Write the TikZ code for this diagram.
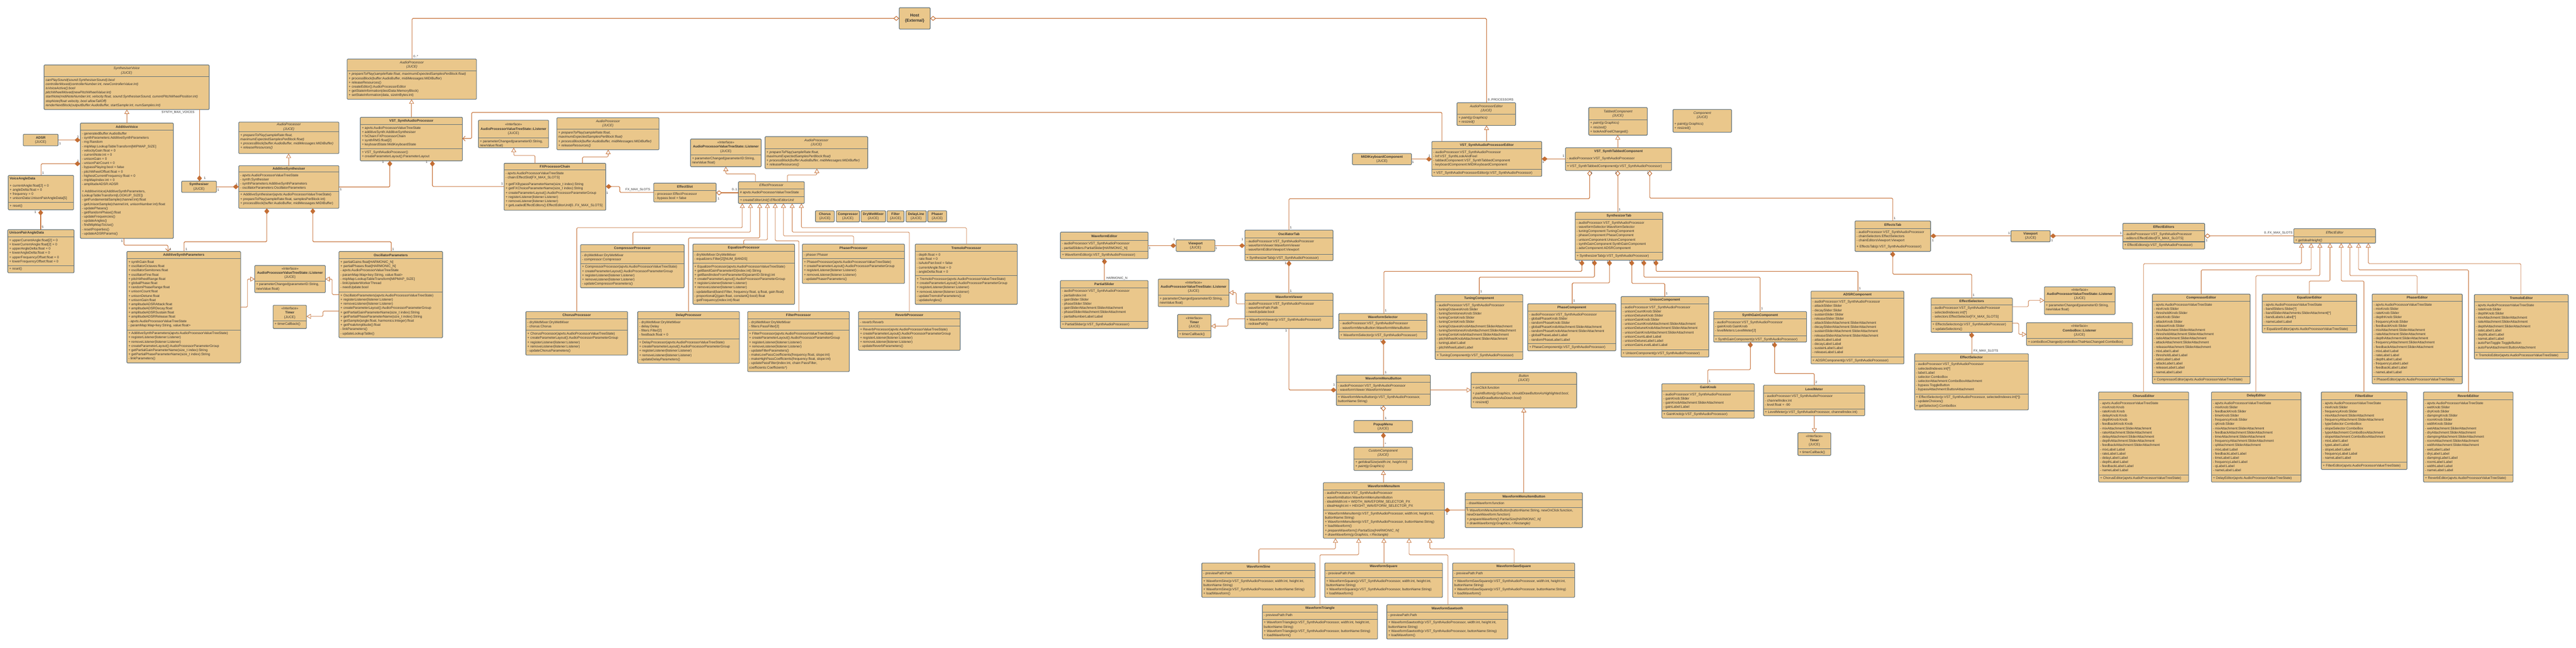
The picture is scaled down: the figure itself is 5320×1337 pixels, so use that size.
\documentclass[tikz,border=0pt]{standalone}
\usepackage{fontspec}
\setmainfont{Liberation Sans}
\usetikzlibrary{arrows.meta}
\definecolor{cfill}{RGB}{234,199,139}
\definecolor{cbord}{RGB}{92,110,120}
\definecolor{cline}{RGB}{196,110,52}
\definecolor{ctext}{RGB}{50,50,50}
\tikzset{
  cbox/.style={draw=cbord,fill=cfill,line width=1.2pt,rounded corners=1.5pt,inner sep=0pt,outer sep=0pt},
  sepl/.style={draw=cbord,line width=1.1pt},
  ttl/.style={font=\fontsize{7}{8.7}\selectfont\bfseries,text=ctext,align=center,inner sep=0pt},
  txt/.style={font=\fontsize{7}{8.7}\selectfont,text=ctext,align=left,inner sep=0pt,anchor=north west},
  conn/.style={draw=cline,line width=1.2pt,rounded corners=2pt},
  cmp/.style={conn,-{Diamond[length=12pt,width=10pt,fill=cline]}},
  agg/.style={conn,-{Diamond[length=12pt,width=10pt,fill=white]}},
  inh/.style={draw=cline,line width=0.9pt,rounded corners=2pt,-{Triangle[length=9pt,width=10pt,fill=white]}},
  nav/.style={conn,-{Straight Barb[length=5pt,width=10pt]}},
  ml/.style={font=\fontsize{6.5}{7}\selectfont,text=ctext,inner sep=0.5pt},
}
\newcommand{\bx}[5]{\node[cbox,anchor=north west,minimum width={#4-#2},minimum height={#5-#3}] (#1) at (#2,#3) {};}
\newcommand{\hs}[3]{\draw[sepl] (#1,#3) -- (#2,#3);}
\newcommand{\tx}[3]{\node[txt] at (#1+3,#2+4) {#3};}
\newcommand{\cls}[8]{\bx{#1}{#2}{#3}{#4}{#5}\hs{#2}{#4}{#6}\node[ttl] at ({(#2+#4)/2},{(#3+#6)/2}) {#7};\tx{#2}{#6}{#8}}
\newcommand{\mth}[4]{\hs{#1}{#2}{#3}\tx{#1}{#3}{#4}}
\newcommand{\jb}[6]{\node[cbox,ttl,anchor=north west,minimum width={#4-#2},minimum height={#5-#3}] (#1) at (#2,#3) {#6};}
\newcommand{\ital}[1]{{\mdseries\itshape #1}}
\newcommand{\juce}{{\mdseries\{JUCE\}}}
\newcommand{\ijuce}{{\mdseries\itshape\{JUCE\}}}
\newcommand{\ifc}[1]{{\mdseries <<Interface>>}\\#1\\\juce}
\newcommand{\lsn}[6]{\cls{#1}{#2}{#3}{#4}{#5}{#6}{\ifc{AudioProcessorValueTreeState::Listener}}{+ parameterChanged(parameterID:String,\\newValue:float)}}
\newcommand{\tmr}[6]{\cls{#1}{#2}{#3}{#4}{#5}{#6}{\ifc{Timer}}{+ timerCallback()}}
\newcommand{\ml}[3]{\node[ml] at (#1,#2) {#3};}
\catcode`\_=12
\begin{document}
\begin{tikzpicture}[x=1pt,y=-1pt]
\fill[white] (0,0) rectangle (5320,1337);
\useasboundingbox (0,0) rectangle (5320,1337);

% ================= left: synthesiser =================
\cls{sv}{91}{134}{432}{226}{158}{\ital{SynthesiserVoice}\\\ijuce}{\textit{canPlaySound(sound:SynthesiserSound):bool}\\
\textit{controllerMoved(controllerNumber:int, newControllerValue:int)}\\
\textit{isVoiceActive():bool}\\
\textit{pitchWheelMoved(newPitchWheelValue:int)}\\
\textit{startNote(midiNoteNumber:int, velocity:float, sound:SynthesiserSound, currentPitchWheelPosition:int)}\\
\textit{stopNote(float velocity, bool allowTailOff)}\\
\textit{renderNextBlock(outputBuffer:AudioBuffer, startSample:int, numSamples:int)}}

\jb{adsr}{48}{277}{120}{301}{ADSR\\\juce}

\bx{av}{166}{254}{358}{492}
\hs{166}{358}{269}
\node[ttl] at (262,261.5) {AdditiveVoice};
\tx{166}{269}{- generatedBuffer:AudioBuffer\\
- synthParameters:AdditiveSynthParameters\\
- rng:Random\\
- mipMap:LookupTableTransform[MIPMAP_SIZE]\\
- velocityGain:float = 0\\
- currentNote:int = 0\\
- unisonGain = 0\\
- unisonPairCount = 0\\
- bypassPlaying:bool = false\\
- pitchWheelOffset:float = 0\\
- highestCurrentFrequency:float = 0\\
- mipMapIndex:int = 0\\
- amplitudeADSR:ADSR\\[6pt]
+ AdditiveVoice(AdditiveSynthParameters,\\
LookupTableTransform[LOOKUP_SIZE])\\
- getFundamentalSample(channel:int):float\\
- getUnisonSample(channel:int, unisonNumber:int):float\\
- updatePhases()\\
- getRandomPhase():float\\
- updateFrequencies()\\
- updateAngles()\\
- findMipMapToUse()\\
- resetProperties()\\
- updateADSRParams()}

\bx{vad}{17}{362}{152}{433}
\node[ttl,anchor=west] at (20,369) {VoiceAngleData};
\tx{17}{376}{+ currentAngle:float[2] = 0\\+ angleDelta:float = 0\\+ frequency = 0\\+ unisonData:UnisonPairAngleData[5]}
\mth{17}{152}{418}{+ reset()}

\bx{upad}{16}{474}{153}{563}
\node[ttl,anchor=west] at (19,481) {UnisonPairAngleData};
\hs{16}{153}{489}
\tx{16}{489}{+ upperCurrentAngle:float[2] = 0\\+ lowerCurrentAngle:float[2] = 0\\+ upperAngleDelta:float = 0\\+ lowerAngleDelta:float = 0\\+ upperFrequencyOffset:float = 0\\+ lowerFrequencyOffset:float = 0}
\mth{16}{153}{548}{+ reset()}

\jb{synth}{375}{374}{447}{397}{Synthesiser\\\juce}

\cls{apA}{493}{252}{700}{317}{272}{\ital{AudioProcessor}\\\ijuce}{\textit{+ prepareToPlay(sampleRate:float,}\\\textit{maximumExpectedSamplesPerBlock:float)}\\\textit{+ processBlock(buffer:AudioBuffer, midiMessages:MIDIBuffer)}\\\textit{+ releaseResources()}}

\cls{asyn}{493}{342}{700}{430}{355}{AdditiveSynthesiser}{- apvts:AudioProcessorValueTreeState\\- synth:Synthesiser\\- synthParameters:AdditiveSynthParameters\\- oscillatorParameters:OscillatorParameters}
\mth{493}{700}{395}{+ AdditiveSynthesiser(apvts:AudioProcessorValueTreeState)\\+ prepareToPlay(sampleRate:float, samplesPerBlock:int)\\+ processBlock(buffer:AudioBuffer, midiMessages:MIDIBuffer)}

\cls{asp}{262}{519}{497}{749}{534}{AdditiveSynthParameters}{+ synthGain:float\\
+ oscillatorOctaves:float\\
+ oscillatorSemitones:float\\
+ oscillatorFine:float\\
+ pitchWheelRange:float\\
+ globalPhase:float\\
+ randomPhaseRange:float\\
+ unisonCount:float\\
+ unisonDetune:float\\
+ unisonGain:float\\
+ amplitudeADSRAttack:float\\
+ amplitudeADSRDecay:float\\
+ amplitudeADSRSustain:float\\
+ amplitudeADSRRelease:float\\
- apvts:AudioProcessorValueTreeState\\
- paramMap:Map<key:String, value:float>}
\mth{262}{497}{681}{+ AdditiveSynthParameters(apvts:AudioProcessorValueTreeState)\\
+ registerListener(listener:Listener)\\
+ removeListener(listener:Listener)\\
+ createParameterLayout():AudioProcessorParameterGroup\\
+ getPartialGainParameterName(size_t index):String\\
+ getPartialPhaseParameterName(size_t index):String\\
- linkParameters()}

\cls{osp}{700}{519}{914}{697}{534}{OscillatorParameters}{+ partialGains:float[HARMONIC_N]\\
+ partialPhases:float[HARMONIC_N]\\
- apvts:AudioProcessorValueTreeState\\
- paramMap:Map<key:String, value:float>\\
- mipMap:LookupTableTransform[MIPMAP_SIZE]\\
- linkUpdaterWorkerThread\\
- needUpdate:bool}
\mth{700}{914}{603}{+ OscillatorParameters(apvts:AudioProcessorValueTreeState)\\
+ registerListener(listener:Listener)\\
+ removeListener(listener:Listener)\\
+ createParameterLayout():AudioProcessorParameterGroup\\
+ getPartialGainParameterName(size_t index):String\\
+ getPartialPhaseParameterName(size_t index):String\\
+ getSample(angle:float, harmonics:Integer):float\\
+ getPeakAmplitude():float\\
- linkParameters()\\
- updateLookupTable()}

\lsn{lis3}{526}{548}{672}{604}{580}
\tmr{tim1}{564}{630}{633}{678}{662}

% ================= processor =================
\cls{ap1}{717}{122}{984}{205}{146}{\ital{AudioProcessor}\\\ijuce}{\textit{+ prepareToPlay(sampleRate:float, maximumExpectedSamplesPerBlock:float)}\\
+ processBlock(buffer:AudioBuffer, midiMessages:MIDIBuffer)\\
+ releaseResources()\\
+ createEditor():AudioProcessorEditor\\
+ getStateInformation(destData:MemoryBlock)\\
+ setStateInformation(data, sizeInBytes:int)}

\cls{vst}{744}{242}{955}{332}{257}{VST_SynthAudioProcessor}{+ apvts:AudioProcessorValueTreeState\\
+ additiveSynth:AdditiveSynthesiser\\
+ fxChain:FXProcessorChain\\
+ synthRMS:float[2]\\
+ keyboardState:MidiKeyboardState}
\mth{744}{955}{307}{+ VST_SynthAudioProcessor()\\+ createParameterLayout():ParameterLayout}

\node[cbox,anchor=north west,minimum width=64,minimum height=44,font=\fontsize{8.5}{10.5}\selectfont\bfseries,text=ctext,align=center] (host) at (1857,16) {Host\\\{External\}};

\lsn{lis1}{988}{248}{1133}{305}{285}
\cls{ap2}{1150}{243}{1361}{309}{267}{\ital{AudioProcessor}\\\ijuce}{\textit{+ prepareToPlay(sampleRate:float,}\\\textit{maximumExpectedSamplesPerBlock:float)}\\\textit{+ processBlock(buffer:AudioBuffer, midiMessages:MIDIBuffer)}\\\textit{+ releaseResources()}}

\cls{fxc}{1041}{337}{1251}{434}{351}{FXProcessorChain}{- apvts:AudioProcessorValueTreeState\\
- chain:EffectSlot[FX_MAX_SLOTS]\\[5pt]
+ getFXBypassParameterName(size_t index):String\\
+ getFXChoiceParameterName(size_t index):String\\
+ createParameterLayout():AudioProcessorParameterGroup\\
+ registerListener(listener:Listener)\\
+ removeListener(listener:Listener)\\
+ getLoadedEffectEditors():EffectEditorUnit[0..FX_MAX_SLOTS]}

\cls{eslot}{1350}{378}{1479}{417}{393}{EffectSlot}{- processor:EffectProcessor\\- bypass:bool = false}

\lsn{lis2}{1426}{287}{1572}{344}{320}
\cls{ap3}{1580}{282}{1792}{348}{307}{\ital{AudioProcessor}\\\ijuce}{\textit{+ prepareToPlay(sampleRate:float,}\\\textit{maximumExpectedSamplesPerBlock:float)}\\\textit{+ processBlock(buffer:AudioBuffer, midiMessages:MIDIBuffer)}\\\textit{+ releaseResources()}}

\cls{ep}{1525}{375}{1661}{420}{390}{\ital{EffectProcessor}}{\# apvts:AudioProcessorValueTreeState}
\mth{1525}{1661}{406}{\textit{+ createEditorUnit():EffectEditorUnit}}

\jb{jcho}{1684}{435}{1723}{458}{Chorus\\\juce}
\jb{jcom}{1727}{435}{1775}{458}{Compressor\\\juce}
\jb{jdwm}{1778}{435}{1829}{458}{DryWetMixer\\\juce}
\jb{jfil}{1832}{435}{1867}{458}{Filter\\\juce}
\jb{jdel}{1871}{435}{1913}{458}{DelayLine\\\juce}
\jb{jpha}{1916}{435}{1955}{458}{Phaser\\\juce}

\cls{cpp}{1199}{505}{1413}{594}{520}{CompressorProcessor}{- dryWetMixer:DryWetMixer\\- compressor:Compressor}
\mth{1199}{1413}{544}{+ CompressorProcessor(apvts:AudioProcessorValueTreeState)\\+ createParameterLayout():AudioProcessorParameterGroup\\+ registerListener(listener:Listener)\\+ removeListener(listener:Listener)\\- updateCompressorParameters()}

\cls{eqp}{1431}{504}{1641}{628}{519}{EqualizerProcessor}{- dryWetMixer:DryWetMixer\\- equalizers:Filter[2][NUM_BANDS]}
\mth{1431}{1641}{543}{+ EqualizerProcessor(apvts:AudioProcessorValueTreeState)\\+ getBandGainParameterID(index:int):String\\+ getBandIndexFromParameterID(paramID:String):int\\+ createParameterLayout():AudioProcessorParameterGroup\\+ registerListener(listener:Listener)\\+ removeListener(listener:Listener)\\- updateBand(band:Filter, frequency:float, q:float, gain:float)\\- proportionalQ(gain:float, constantQ:bool):float\\- getFrequency(index:int):float}

\cls{php}{1657}{504}{1868}{585}{519}{PhaserProcessor}{- phaser:Phaser}
\mth{1657}{1868}{534}{+ PhaserProcessor(apvts:AudioProcessorValueTreeState)\\+ createParameterLayout():AudioProcessorParameterGroup\\+ registerListener(listener:Listener)\\+ removeListener(listener:Listener)\\- updatePhaserParameters()}

\cls{trp}{1890}{504}{2101}{628}{519}{TremoloProcessor}{- depth:float = 0\\- rate:float = 0\\- isAutoPan:bool = false\\- currentAngle:float = 0\\- angleDelta:float = 0}
\mth{1890}{2101}{569}{+ TremoloProcessor(apvts:AudioProcessorValueTreeState)\\+ createParameterLayout():AudioProcessorParameterGroup\\+ registerListener(listener:Listener)\\+ removeListener(listener:Listener)\\- updateTremoloParameters()\\- updateAngles()}

\cls{chp}{1086}{643}{1296}{733}{658}{ChorusProcessor}{- dryWetMixer:DryWetMixer\\- chorus:Chorus}
\mth{1086}{1296}{682}{+ ChorusProcessor(apvts:AudioProcessorValueTreeState)\\+ createParameterLayout():AudioProcessorParameterGroup\\+ registerListener(listener:Listener)\\+ removeListener(listener:Listener)\\- updateChorusParameters()}

\cls{dlp}{1317}{643}{1527}{750}{658}{DelayProcessor}{- dryWetMixer:DryWetMixer\\- delay:Delay\\- filters:Filter[2]\\- feedback:float = 0}
\mth{1317}{1527}{700}{+ DelayProcessor(apvts:AudioProcessorValueTreeState)\\+ createParameterLayout():AudioProcessorParameterGroup\\+ registerListener(listener:Listener)\\+ removeListener(listener:Listener)\\- updateDelayParameters()}

\cls{flp}{1544}{643}{1754}{767}{658}{FilterProcessor}{- dryWetMixer:DryWetMixer\\- filters:PassFilter[2]}
\mth{1544}{1754}{682}{+ FilterProcessor(apvts:AudioProcessorValueTreeState)\\+ createParameterLayout():AudioProcessorParameterGroup\\+ registerListener(listener:Listener)\\+ removeListener(listener:Listener)\\- updateFilterParameters()\\- makeLowPassCoefficients(frequency:float, slope:int)\\- makeHighPassCoefficients(frequency:float, slope:int)\\- updatePassFilter(index:int, chain:PassFilter,\\coefficients:Coefficients*)}

\cls{rvp}{1773}{643}{1983}{723}{658}{ReverbProcessor}{- reverb:Reverb}
\mth{1773}{1983}{673}{+ ReverbProcessor(apvts:AudioProcessorValueTreeState)\\+ createParameterLayout():AudioProcessorParameterGroup\\+ registerListener(listener:Listener)\\+ removeListener(listener:Listener)\\- updateReverbParameters()}

% ================= editor =================
\cls{ape}{3009}{212}{3130}{259}{236}{\ital{AudioProcessorEditor}\\\ijuce}{\textit{+ paint(g:Graphics)}\\\textit{+ resized()}}

\cls{vste}{2957}{292}{3184}{364}{307}{VST_SynthAudioProcessorEditor}{- audioProcessor:VST_SynthAudioProcessor\\- lnf:VST_SynthLookAndFeel\\- tabbedComponent:VST_SynthTabbedComponent\\- keyboardComponent:MIDIKeyboardComponent}
\mth{2957}{3184}{350}{+ VST_SynthAudioProcessorEditor(p:VST_SynthAudioProcessor)}

\jb{midi}{2793}{317}{2915}{340}{MIDIKeyboardComponent\\\juce}

\cls{tabc}{3281}{222}{3402}{279}{247}{\ital{TabbedComponent}\\\ijuce}{\textit{+ paint(g:Graphics)}\\\textit{+ resized()}\\+ lookAndFeelChanged()}

\bx{vstt}{3233}{305}{3452}{352}
\node[ttl] at (3342.5,313) {VST_SynthTabbedComponent};
\tx{3233}{320}{- audioProcessor:VST_SynthAudioProcessor}
\mth{3233}{3452}{336}{+ VST_SynthTabbedComponent(p:VST_SynthAudioProcessor)}

\bx{cmpj}{3455}{226}{3576}{273}
\node[ttl] at (3515.5,238) {\ital{Component}\\\ijuce};
\tx{3455}{249}{+ paint(g:Graphics)\\+ resized()}

\cls{stab}{3253}{438}{3434}{537}{453}{SynthesizerTab}{- audioProcessor:VST_SynthAudioProcessor\\- waveformSelector:WaveformSelector\\- tuningComponent:TuningComponent\\- phaseComponent:PhaseComponent\\- unisonComponent:UnisonComponent\\- synthGainComponent:SynthGainComponent\\- adsrComponent:ADSRComponent}
\mth{3253}{3434}{521}{+ SynthesizerTab(p:VST_SynthAudioProcessor)}

\cls{otab}{2571}{475}{2753}{538}{491}{OscillatorTab}{- audioProcessor:VST_SynthAudioProcessor\\- waveformViewer:WaveformViewer\\- waveformEditorViewport:Viewport}
\mth{2571}{2753}{525}{+ SynthesizerTab(p:VST_SynthAudioProcessor)}

\jb{vp1}{2429}{495}{2509}{519}{Viewport\\\juce}

\cls{wed}{2190}{479}{2371}{534}{496}{WaveformEditor}{- audioProcessor:VST_SynthAudioProcessor\\- partialSliders:PartialSlider[HARMONIC_N]}
\mth{2190}{2371}{519}{+ WaveformEditor(p:VST_SynthAudioProcessor)}

\cls{psl}{2190}{579}{2371}{678}{594}{PartialSlider}{- audioProcessor:VST_SynthAudioProcessor\\- partialIndex:int\\- gainSlider:Slider\\- phaseSlider:Slider\\- gainSliderAttachment:SliderAttachment\\- phaseSliderAttachment:SliderAttachment\\- partialNumberLabel:Label}
\mth{2190}{2371}{663}{+ PartialSlider(p:VST_SynthAudioProcessor)}

\lsn{lis4}{2392}{576}{2538}{633}{609}
\tmr{tim2}{2432}{649}{2501}{697}{683}

\cls{wview}{2571}{605}{2753}{678}{620}{WaveformViewer}{- audioProcessor:VST_SynthAudioProcessor\\- waveformPath:Path\\- needUpdate:bool}
\mth{2571}{2753}{653}{+ WaveformViewer(p:VST_SynthAudioProcessor)\\- redrawPath()}

\cls{wsel}{2765}{647}{2947}{700}{661}{WaveformSelector}{- audioProcessor:VST_SynthAudioProcessor\\- waveformMenuButton:WaveformMenuButton}
\mth{2765}{2947}{685}{+ WaveformSelector(p:VST_SynthAudioProcessor)}

\cls{tun}{2964}{608}{3145}{742}{623}{TuningComponent}{- audioProcessor:VST_SynthAudioProcessor\\- tuningOctavesKnob:Slider\\- tuningSemitonesKnob:Slider\\- tuningCentsKnob:Slider\\- tuningCentsKnob:Slider\\- tuningOctavesKnobAttachment:SliderAttachment\\- tuningSemitonesKnobAttachment:SliderAttachment\\- tuningCentsKnobAttachment:SliderAttachment\\- pitchWheelKnobAttachment:SliderAttachment\\- tuningLabel:Label\\- pitchWheelLabel:Label}
\mth{2964}{3145}{726}{+ TuningComponent(p:VST_SynthAudioProcessor)}

\cls{phc}{3155}{627}{3337}{724}{642}{PhaseComponent}{- audioProcessor:VST_SynthAudioProcessor\\- globalPhaseKnob:Slider\\- randomPhaseKnob:Slider\\- globalPhaseKnobAttachment:SliderAttachment\\- randomPhaseKnobAttachment:SliderAttachment\\- globalPhaseLabel:Label\\- randomPhaseLabel:Label}
\mth{3155}{3337}{709}{+ PhaseComponent(p:VST_SynthAudioProcessor)}

\cls{unc}{3348}{612}{3529}{737}{627}{UnisonComponent}{- audioProcessor:VST_SynthAudioProcessor\\- unisonCountKnob:Slider\\- unisonDetuneKnob:Slider\\- unisonGainKnob:Slider\\- unisonCountKnobAttachment:SliderAttachment\\- unisonDetuneKnobAttachment:SliderAttachment\\- unisonGainKnobAttachment:SliderAttachment\\- unisonCountLabel:Label\\- unisonDetuneLabel:Label\\- unisonGainLevelLabel:Label}
\mth{3348}{3529}{722}{+ UnisonComponent(p:VST_SynthAudioProcessor)}

\cls{sgc}{3539}{643}{3731}{706}{658}{SynthGainComponent}{- audioProcessor:VST_SynthAudioProcessor\\- gainKnob:GainKnob\\- levelMeters:LevelMeter[2]}
\mth{3539}{3731}{693}{+ SynthGainComponent(p:VST_SynthAudioProcessor)}

\cls{adc}{3740}{601}{3932}{751}{616}{ADSRComponent}{- audioProcessor:VST_SynthAudioProcessor\\- attackSlider:Slider\\- decaySlider:Slider\\- sustainSlider:Slider\\- releaseSlider:Slider\\- attackSliderAttachment:SliderAttachment\\- decaySliderAttachment:SliderAttachment\\- sustainSliderAttachment:SliderAttachment\\- releaseSliderAttachment:SliderAttachment\\- attackLabel:Label\\- decayLabel:Label\\- sustainLabel:Label\\- releaseLabel:Label}
\mth{3740}{3932}{737}{+ ADSRComponent(p:VST_SynthAudioProcessor)}

\cls{gk}{3432}{792}{3623}{863}{807}{GainKnob}{- audioProcessor:VST_SynthAudioProcessor\\- gainKnob:Slider\\- gainKnobAttachment:SliderAttachment\\- gainLabel:Label}
\mth{3432}{3623}{848}{+ GainKnob(p:VST_SynthAudioProcessor)}

\cls{lm}{3642}{795}{3851}{858}{811}{LevelMeter}{- audioProcessor:VST_SynthAudioProcessor\\- channelIndex:int\\- level:float = -90}
\mth{3642}{3851}{844}{+ LevelMeter(p:VST_SynthAudioProcessor, channelIndex:int)}

\tmr{tim3}{3713}{893}{3781}{940}{926}

\cls{btn}{3038}{769}{3256}{842}{793}{\ital{Button}\\\ijuce}{+ \textit{onClick:function}\\[4pt]
+ \textit{paintButton(g:Graphics, shouldDrawButtonAsHighlighted:bool,}\\
\textit{shouldDrawButtonAsDown:bool)}\\
+ \textit{resized()}}

\cls{wmb}{2760}{774}{2954}{837}{789}{WaveformMenuButton}{- audioProcessor:VST_SynthAudioProcessor\\- waveformViewer:WaveformViewer}
\mth{2760}{2954}{813}{+ WaveformMenuButton(p:VST_SynthAudioProcessor,\\buttonName:String)}

\jb{pop}{2796}{868}{2917}{893}{PopupMenu\\\juce}

\cls{cc}{2796}{923}{2917}{971}{947}{\ital{CustomComponent}\\\ijuce}{\textit{+ getIdealSize(width:int, height:int)}\\\textit{+ paint(g:Graphics)}}

\cls{wmi}{2733}{996}{2983}{1111}{1011}{WaveformMenuItem}{- audioProcessor:VST_SynthAudioProcessor\\- waveformButton:WaveformMenuItemButton\\- idealWidth:int = WIDTH_WAVEFORM_SELECTOR_PX\\- idealHeight:int = HEIGHT_WAVEFORM_SELECTOR_PX}
\mth{2733}{2983}{1053}{+ WaveformMenuItem(p:VST_SynthAudioProcessor, width:int, height:int,\\buttonName:String)\\+ WaveformMenuItem(p:VST_SynthAudioProcessor, buttonName:String)\\+ loadWaveform()\\\textit{+ prepareWaveform():PartialSize[HARMONIC_N]}\\\textit{+ drawWaveform(g:Graphics, r:Rectangle)}}

\cls{wmib}{3026}{1017}{3268}{1089}{1032}{WaveformMenuItemButton}{- drawWaveform:function}
\mth{3026}{3268}{1047}{+ WaveformMenuItemButton(buttonName:String, newOnClick:function,\\newDrawWaveform:function)\\\textit{+ prepareWaveform():PartialSize[HARMONIC_N]}\\\textit{+ drawWaveform(g:Graphics, r:Rectangle)}}

\cls{wsin}{2482}{1162}{2716}{1233}{1177}{WaveformSine}{- previewPath:Path}
\mth{2482}{2716}{1192}{+ WaveformSine(p:VST_SynthAudioProcessor, width:int, height:int,\\buttonName:String)\\+ WaveformSine(p:VST_SynthAudioProcessor, buttonName:String)\\+ loadWaveform()}
\cls{wsq}{2736}{1162}{2979}{1233}{1177}{WaveformSquare}{- previewPath:Path}
\mth{2736}{2979}{1192}{+ WaveformSquare(p:VST_SynthAudioProcessor, width:int, height:int,\\buttonName:String)\\+ WaveformSquare(p:VST_SynthAudioProcessor, buttonName:String)\\+ loadWaveform()}
\cls{wss}{3000}{1162}{3252}{1233}{1177}{WaveformSawSquare}{- previewPath:Path}
\mth{3000}{3252}{1192}{+ WaveformSawSquare(p:VST_SynthAudioProcessor, width:int, height:int,\\buttonName:String)\\+ WaveformSawSquare(p:VST_SynthAudioProcessor, buttonName:String)\\+ loadWaveform()}
\cls{wtri}{2607}{1248}{2845}{1319}{1263}{WaveformTriangle}{- previewPath:Path}
\mth{2607}{2845}{1278}{+ WaveformTriangle(p:VST_SynthAudioProcessor, width:int, height:int,\\buttonName:String)\\+ WaveformTriangle(p:VST_SynthAudioProcessor, buttonName:String)\\+ loadWaveform()}
\cls{wsaw}{2864}{1248}{3114}{1319}{1263}{WaveformSawtooth}{- previewPath:Path}
\mth{2864}{3114}{1278}{+ WaveformSawtooth(p:VST_SynthAudioProcessor, width:int, height:int,\\buttonName:String)\\+ WaveformSawtooth(p:VST_SynthAudioProcessor, buttonName:String)\\+ loadWaveform()}

% ================= effects tab =================
\cls{etab}{3831}{456}{3987}{519}{472}{EffectsTab}{- audioProcessor:VST_SynthAudioProcessor\\- chainSelectors:EffectSelectors\\- chainEditorsViewport:Viewport\\[4pt]+ EffectsTab(p:VST_SynthAudioProcessor)}

\jb{vp2}{4153}{476}{4234}{499}{Viewport\\\juce}

\cls{eeds}{4384}{461}{4553}{514}{476}{EffectEditors}{- audioProcessor:VST_SynthAudioProcessor\\- editors:EffectEditor[FX_MAX_SLOTS]}
\mth{4384}{4553}{499}{+ EffectEditors(p:VST_SynthAudioProcessor)}

\cls{esels}{3988}{615}{4156}{686}{629}{EffectSelectors}{- audioProcessor:VST_SynthAudioProcessor\\- selectedIndexes:int[*]\\- selectors:EffectSelector[FX_MAX_SLOTS]}
\mth{3988}{4156}{663}{+ EffectsSelectors(p:VST_SynthAudioProcessor)\\+ updateSelectors()}

\lsn{lis5}{4222}{592}{4368}{649}{623}
\cls{cbl}{4185}{666}{4404}{713}{699}{\ifc{ComboBox::Listener}}{+ comboBoxChanged(comboBoxThatHasChanged:ComboBox)}

\cls{esel}{3954}{730}{4189}{846}{745}{EffectSelector}{- audioProcessor:VST_SynthAudioProcessor\\- selectedIndexes:int[*]\\- label:Label\\- selector:ComboBox\\- selectorAttachment:ComboBoxAttachment\\- bypass:ToggleButton\\- bypassAttachment:ButtonAttachment}
\mth{3954}{4189}{813}{+ EffectSelector(p:VST_SynthAudioProcessor, selectedIndexes:int[*])\\- updateChoices()\\+ getSelector():ComboBox}

\cls{eed}{4737}{472}{4906}{502}{489}{\ital{EffectEditor}}{\textit{+ getIdealHeight()}}

\cls{ced}{4445}{607}{4647}{792}{622}{CompressorEditor}{- apvts:AudioProcessorValueTreeState\\- mixKnob:Slider\\- thresholdKnob:Slider\\- ratioKnob:Slider\\- attackKnob:Slider\\- releaseKnob:Slider\\- mixAttachment:SliderAttachment\\- thresholdAttachment:SliderAttachment\\- ratioAttachment:SliderAttachment\\- attackAttachment:SliderAttachment\\- releaseAttachment:SliderAttachment\\- mixLabel:Label\\- thresholdLabel:Label\\- ratioLabel:Label\\- attackLabel:Label\\- releaseLabel:Label\\- nameLabel:Label}
\mth{4445}{4647}{777}{+ CompressorEditor(apvts:AudioProcessorValueTreeState)}

\cls{eqed}{4672}{607}{4867}{687}{622}{EqualizerEditor}{- apvts:AudioProcessorValueTreeState\\- bandSliders:Slider[*]\\- bandSliderAttachments:SliderAttachment[*]\\- bandLabels:Label[*]\\- nameLabel:Label}
\mth{4672}{4867}{672}{+ EqualizerEditor(apvts:AudioProcessorValueTreeState)}

\cls{phed}{4899}{607}{5085}{792}{622}{PhaserEditor}{- apvts:AudioProcessorValueTreeState\\- mixKnob:Slider\\- rateKnob:Slider\\- depthKnob:Slider\\- frequencyKnob:Slider\\- feedbackKnob:Slider\\- mixAttachment:SliderAttachment\\- rateAttachment:SliderAttachment\\- depthAttachment:SliderAttachment\\- frequencyAttachment:SliderAttachment\\- feedbackAttachment:SliderAttachment\\- mixLabel:Label\\- rateLabel:Label\\- depthLabel:Label\\- frequencyLabel:Label\\- feedbackLabel:Label\\- nameLabel:Label}
\mth{4899}{5085}{777}{+ PhaserEditor(apvts:AudioProcessorValueTreeState)}

\cls{tred}{5110}{608}{5304}{741}{623}{TremoloEditor}{- apvts:AudioProcessorValueTreeState\\- rateKnob:Slider\\- depthKnob:Slider\\- mixAttachment:SliderAttachment\\- rateAttachment:SliderAttachment\\- depthAttachment:SliderAttachment\\- rateLabel:Label\\- depthLabel:Label\\- nameLabel:Label\\- autoPanToggle:ToggleButton\\- autoPanAttachment:ButtonAttachment}
\mth{5110}{5304}{727}{+ TremoloEditor(apvts:AudioProcessorValueTreeState)}

\cls{ched}{4334}{809}{4520}{995}{825}{ChorusEditor}{- apvts:AudioProcessorValueTreeState\\- mixKnob:Knob\\- rateKnob:Knob\\- delayKnob:Knob\\- depthKnob:Knob\\- feedbackKnob:Knob\\- mixAttachment:SliderAttachment\\- rateAttachment:SliderAttachment\\- delayAttachment:SliderAttachment\\- depthAttachment:SliderAttachment\\- feedbackAttachment:SliderAttachment\\- mixLabel:Label\\- rateLabel:Label\\- delayLabel:Label\\- depthLabel:Label\\- feedbackLabel:Label\\- nameLabel:Label}
\mth{4334}{4520}{980}{+ ChorusEditor(apvts:AudioProcessorValueTreeState)}

\cls{dled}{4567}{809}{4752}{995}{825}{DelayEditor}{- apvts:AudioProcessorValueTreeState\\- mixKnob:Slider\\- feedbackKnob:Slider\\- timeKnob:Slider\\- frequencyKnob:Slider\\- qKnob:Slider\\- mixAttachment:SliderAttachment\\- feedbackAttachment:SliderAttachment\\- timeAttachment:SliderAttachment\\- frequencyAttachment:SliderAttachment\\- qAttachment:SliderAttachment\\- mixLabel:Label\\- feedbackLabel:Label\\- timeLabel:Label\\- frequencyLabel:Label\\- qLabel:Label\\- nameLabel:Label}
\mth{4567}{4752}{980}{+ DelayEditor(apvts:AudioProcessorValueTreeState)}

\cls{fled}{4794}{809}{4971}{969}{825}{FilterEditor}{- apvts:AudioProcessorValueTreeState\\- mixKnob:Slider\\- frequencyKnob:Slider\\- mixAttachment:SliderAttachment\\- frequencyAttachment:SliderAttachment\\- typeSelector:ComboBox\\- slopeSelector:ComboBox\\- typeAttachment:ComboBoxAttachment\\- slopeAttachment:ComboBoxAttachment\\- mixLabel:Label\\- typeLabel:Label\\- slopeLabel:Label\\- frequencyLabel:Label\\- nameLabel:Label}
\mth{4794}{4971}{954}{+ FilterEditor(apvts:AudioProcessorValueTreeState)}

\cls{rved}{5005}{809}{5190}{995}{825}{ReverbEditor}{- apvts:AudioProcessorValueTreeState\\- wetKnob:Slider\\- dryKnob:Slider\\- dampingKnob:Slider\\- roomKnob:Slider\\- widthKnob:Slider\\- wetAttachment:SliderAttachment\\- dryAttachment:SliderAttachment\\- dampingAttachment:SliderAttachment\\- roomAttachment:SliderAttachment\\- widthAttachment:SliderAttachment\\- wetLabel:Label\\- dryLabel:Label\\- dampingLabel:Label\\- roomLabel:Label\\- widthLabel:Label\\- nameLabel:Label}
\mth{5005}{5190}{980}{+ ReverbEditor(apvts:AudioProcessorValueTreeState)}

% ================= connectors =================
\draw[inh] (av.north -| 262,0) -- (sv.south -| 262,0);
\draw[cmp] (adsr.east) -- (av.west |- adsr.east);
\draw[cmp] (vad.north -| 85,0) |- (av.west |- 0,338);
\draw[cmp] (upad.north -| 84,0) -- (vad.south -| 84,0);
\draw[cmp] (sv.south -| 412,0) -- (synth.north -| 412,0);
\draw[cmp] (synth.east) -- (asyn.west |- synth.east);
\draw[nav] (av.south -| 256,0) |- (347,506) -- (asp.north -| 347,0);
\draw[cmp] (asp.north -| 380,0) |- (551,499) -- (asyn.south -| 551,0);
\draw[cmp] (osp.north -| 808,0) |- (646,499) -- (asyn.south -| 646,0);
\draw[inh] (asyn.north -| 596,0) -- (apA.south -| 596,0);
\draw[inh] (asp.east |- 0,634) -| (511,576) -- (lis3.west |- 0,576);
\draw[inh] (osp.west |- 0,608) -| (686,576) -- (lis3.east |- 0,576);
\draw[inh] (osp.west |- 0,642) -| (667,653) -- (tim1.east |- 0,653);
\draw[cmp] (asyn.east |- 0,386) -| (vst.south -| 805,0);
\draw[cmp] (fxc.west |- 0,385) -| (vst.south -| 893,0);
\draw[inh] (vst.north -| 850,0) -- (ap1.south -| 850,0);
\draw[agg] (ap1.north -| 851,0) |- (host.west |- 0,38);
\draw[agg] (ape.north -| 3070,0) |- (host.east |- 0,38);
\draw[nav] (vste.north -| 2978,0) |- (974,232) |- (vst.east |- 0,286);
\draw[inh] (fxc.north -| 1105,0) |- (1061,321) -- (lis1.south -| 1061,0);
\draw[inh] (fxc.north -| 1203,0) |- (1256,324) -- (ap2.south -| 1256,0);
\draw[cmp] (eslot.west |- 0,397) -| (1280,385) -- (fxc.east |- 0,385);
\draw[agg] (ep.west |- 0,398) -- (eslot.east |- 0,398);
\draw[inh] (ep.north -| 1560,0) |- (1499,359) -- (lis2.south -| 1499,0);
\draw[inh] (ep.north -| 1626,0) |- (1687,361) -- (ap3.south -| 1687,0);
\draw[inh] (chp.north -| 1191,0) |- (1533,470) -- (ep.south -| 1533,0);
\draw[inh] (cpp.north -| 1307,0) |- (1550,479) -- (ep.south -| 1550,0);
\draw[inh] (dlp.north -| 1422,0) |- (1569,491) -- (ep.south -| 1569,0);
\draw[inh] (eqp.north -| 1536,0) |- (1585,495) -- (ep.south -| 1585,0);
\draw[inh] (flp.north -| 1650,0) |- (1601,497) -- (ep.south -| 1601,0);
\draw[inh] (php.north -| 1763,0) |- (1618,487) -- (ep.south -| 1618,0);
\draw[inh] (rvp.north -| 1878,0) |- (1636,479) -- (ep.south -| 1636,0);
\draw[inh] (trp.north -| 1996,0) |- (1655,470) -- (ep.south -| 1655,0);

\draw[inh] (vste.north -| 3070,0) -- (ape.south -| 3070,0);
\draw[cmp] (midi.east) -- (vste.west |- midi.east);
\draw[cmp] (vstt.west |- 0,328) -- (vste.east |- 0,328);
\draw[inh] (vstt.north -| 3341,0) -- (tabc.south -| 3341,0);
\draw[agg] (otab.north -| 2662,0) |- (3283,410) -- (vstt.south -| 3283,0);
\draw[agg] (stab.north -| 3341,0) -- (vstt.south -| 3341,0);
\draw[agg] (etab.north -| 3909,0) |- (3407,409) -- (vstt.south -| 3407,0);
\draw[cmp] (wed.east |- 0,507) -- (vp1.west |- 0,507);
\draw[cmp] (vp1.east |- 0,507) -- (otab.west |- 0,507);
\draw[cmp] (wview.north -| 2662,0) -- (otab.south -| 2662,0);
\draw[cmp] (psl.north -| 2281,0) -- (wed.south -| 2281,0);
\draw[inh] (wview.west |- 0,627) -| (2553,604) -- (lis4.east |- 0,604);
\draw[inh] (wview.west |- 0,658) -| (2536,673) -- (tim2.east |- 0,673);
\draw[cmp] (wsel.north -| 2858,0) |- (3267,560) -- (stab.south -| 3267,0);
\draw[cmp] (tun.north -| 3055,0) |- (3293,572) -- (stab.south -| 3293,0);
\draw[cmp] (phc.north -| 3247,0) |- (3324,584) -- (stab.south -| 3324,0);
\draw[cmp] (unc.north -| 3438,0) |- (3370,585) -- (stab.south -| 3370,0);
\draw[cmp] (sgc.north -| 3635,0) |- (3395,572) -- (stab.south -| 3395,0);
\draw[cmp] (adc.north -| 3837,0) |- (3420,560) -- (stab.south -| 3420,0);
\draw[cmp] (wmb.north -| 2857,0) -- (wsel.south -| 2857,0);
\draw[cmp] (wview.south -| 2662,0) |- (wmb.west |- 0,805);
\draw[inh] (wmb.east |- 0,805) -- (btn.west |- 0,805);
\draw[agg] (pop.north -| 2857,0) -- (wmb.south -| 2857,0);
\draw[cmp] (cc.north -| 2857,0) -- (pop.south -| 2857,0);
\draw[inh] (wmi.north -| 2857,0) -- (cc.south -| 2857,0);
\draw[inh] (wmib.north -| 3147,0) -- (btn.south -| 3147,0);
\draw[cmp] (wmib.west |- 0,1053) -- (wmi.east |- 0,1053);
\draw[inh] (wsin.north -| 2600,0) |- (2758,1133) -- (wmi.south -| 2758,0);
\draw[inh] (wtri.north -| 2726,0) |- (2806,1145) -- (wmi.south -| 2806,0);
\draw[inh] (wsq.north -| 2858,0) -- (wmi.south -| 2858,0);
\draw[inh] (wsaw.north -| 2990,0) |- (2910,1145) -- (wmi.south -| 2910,0);
\draw[inh] (wss.north -| 3127,0) |- (2953,1133) -- (wmi.south -| 2953,0);
\draw[cmp] (gk.north -| 3527,0) |- (3615,763) -- (sgc.south -| 3615,0);
\draw[cmp] (lm.north -| 3747,0) |- (3665,771) -- (sgc.south -| 3665,0);
\draw[inh] (lm.south -| 3747,0) -- (tim3.north -| 3747,0);

\draw[cmp] (vp2.west |- 0,487) -- (etab.east |- 0,487);
\draw[cmp] (eeds.west |- 0,487) -- (vp2.east |- 0,487);
\draw[agg] (eed.west |- 0,487) -- (eeds.east |- 0,487);
\draw[cmp] (esels.north -| 4072,0) |- (3909,566) -- (etab.south -| 3909,0);
\draw[inh] (esels.east |- 0,633) -| (4189,620) -- (lis5.west |- 0,620);
\draw[inh] (esels.east |- 0,667) -| (4169,690) -- (cbl.west |- 0,690);
\draw[cmp] (esel.north -| 4072,0) -- (esels.south -| 4072,0);
\draw[inh] (ched.north -| 4427,0) |- (4753,544) -- (eed.south -| 4753,0);
\draw[inh] (ced.north -| 4546,0) |- (4773,557) -- (eed.south -| 4773,0);
\draw[inh] (dled.north -| 4659,0) |- (4791,569) -- (eed.south -| 4791,0);
\draw[inh] (eqed.north -| 4769,0) |- (4812,580) -- (eed.south -| 4812,0);
\draw[inh] (fled.north -| 4882,0) |- (4835,580) -- (eed.south -| 4835,0);
\draw[inh] (phed.north -| 4992,0) |- (4853,569) -- (eed.south -| 4853,0);
\draw[inh] (rved.north -| 5098,0) |- (4871,557) -- (eed.south -| 4871,0);
\draw[inh] (tred.north -| 5206,0) |- (4891,544) -- (eed.south -| 4891,0);

% ================= multiplicities =================
\ml{161}{282}{1} \ml{124}{296}{1}
\ml{161}{332}{1} \ml{89}{357}{1}
\ml{73}{438}{1} \ml{88}{469}{5}
\node[ml,anchor=west] at (333,232) {SYNTH_MAX_VOICES};
\ml{423}{368}{1} \ml{489}{380}{1} \ml{451}{392}{1}
\ml{252}{497}{1} \ml{352}{514}{1} \ml{385}{514}{1} \ml{812}{514}{1}
\node[ml,anchor=west] at (853,116) {0..*};
\ml{791}{334}{1} \ml{881}{334}{1} \ml{1037}{379}{1} \ml{704}{391}{1}
\node[ml,anchor=west] at (1291,391) {FX_MAX_SLOTS};
\ml{1254}{398}{1}
\ml{1517}{391}{0..1} \ml{1484}{410}{1}
\node[ml,anchor=west] at (3072,206) {0..PROCESSORS};
\node[ml,anchor=west] at (2284,574) {HARMONIC_N};
\ml{2278}{538}{1} \ml{2374}{512}{1} \ml{2425}{494}{1} \ml{2512}{512}{1} \ml{2566}{494}{1}
\ml{2666}{470}{1} \ml{2666}{600}{1} \ml{2655}{543}{1} \ml{2656}{682}{1} \ml{2755}{794}{1}
\ml{2862}{641}{1} \ml{2852}{704}{1} \ml{2862}{769}{1} \ml{2852}{842}{1} \ml{2862}{863}{1}
\node[ml] at (2861,917) {*};
\ml{3059}{602}{1} \ml{3251}{621}{1} \ml{3442}{606}{1} \ml{3639}{637}{1} \ml{3841}{595}{1}
\ml{3262}{541}{1} \ml{3289}{541}{1} \ml{3320}{541}{1} \ml{3366}{541}{1} \ml{3391}{541}{1} \ml{3416}{541}{1}
\ml{3345}{432}{1} \ml{3913}{451}{1} \ml{3287}{357}{1} \ml{3337}{357}{1} \ml{3403}{357}{1}
\ml{2952}{322}{1} \ml{2918}{334}{1} \ml{3229}{322}{1} \ml{3187}{334}{1}
\ml{3531}{787}{1} \ml{3751}{789}{2} \ml{3611}{711}{1} \ml{3661}{711}{1}
\ml{3030}{1049}{1} \ml{2988}{1060}{1}
\ml{3992}{496}{1} \ml{4149}{481}{1} \ml{4238}{496}{1} \ml{4380}{481}{1} \ml{4557}{496}{1}
\node[ml,anchor=east] at (4735,481) {0..FX_MAX_SLOTS};
\ml{3905}{524}{1} \ml{4076}{609}{1} \ml{4068}{690}{1}
\node[ml,anchor=west] at (4075,725) {FX_MAX_SLOTS};
\end{tikzpicture}
\end{document}
